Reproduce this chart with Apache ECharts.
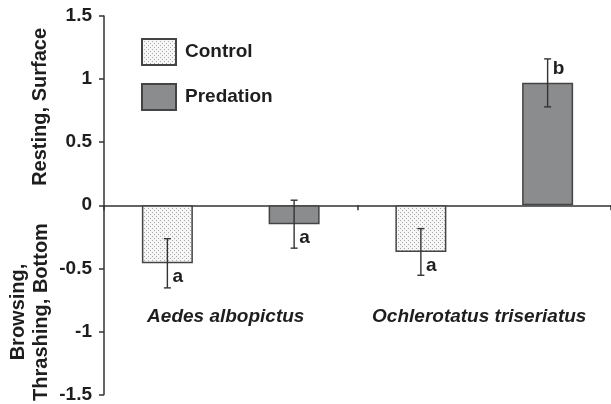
<!DOCTYPE html>
<html>
<head>
<meta charset="utf-8">
<script src="https://cdn.jsdelivr.net/npm/echarts@6/dist/echarts.min.js"></script>
<style>
  html, body { margin: 0; padding: 0; background: #fff; }
  #chart { width: 611px; height: 404px; }
</style>
</head>
<body>
<div id="chart"></div>
<script>
// bar groups (one bar per slot on the x axis)
const categories = ['Aedes Control', 'Aedes Predation', 'Ochlerotatus Control', 'Ochlerotatus Predation']
const controlValues = [-0.46, '-', -0.37, '-']
const predationValues = ['-', -0.15, '-', 0.97]
const means = [-0.46, -0.15, -0.37, 0.97]
const errors = [0.195, 0.19, 0.185, 0.19]
const letters = ['a', 'a', 'a', 'b']
const species = ['Aedes albopictus', 'Ochlerotatus triseriatus']

const FONT = 'Liberation Sans, Arial, sans-serif'
const INK = '#1e1e1e'

// dotted fill for the control bars
function dotPattern() {
    const c = document.createElement('canvas')
    c.width = 4
    c.height = 4
    const ctx = c.getContext('2d')
    ctx.fillStyle = '#f6f6f6'
    ctx.fillRect(0, 0, 4, 4)
    ctx.fillStyle = '#a8a8a8'
    ctx.fillRect(0, 0, 1, 1)
    ctx.fillRect(2, 2, 1, 1)
    return c
}

const errData = means.map((m, i) => [i, m, errors[i]])

const chart = echarts.init(document.getElementById('chart'))
chart.setOption({
    animation: false,
    textStyle: { fontFamily: FONT },
    grid: { left: 104, right: 0, top: 16, bottom: 6 },
    legend: {
        orient: 'vertical',
        left: 141,
        top: 38,
        padding: 0,
        icon: 'rect',
        itemWidth: 34,
        itemHeight: 26,
        itemGap: 17,
        data: ['Control', 'Predation'],
        textStyle: { fontSize: 19, fontWeight: 'bold', color: INK, fontFamily: FONT, padding: [0, 0, 0, 4] }
    },
    xAxis: [
        {
            type: 'category',
            data: categories,
            axisLine: { onZero: true, lineStyle: { color: '#333', width: 1.5 } },
            axisTick: { show: true, length: 5, lineStyle: { color: '#333', width: 1.5 } },
            axisLabel: { show: false }
        },
        {
            type: 'category',
            data: species,
            position: 'bottom',
            offset: -87,
            axisLine: { show: false, onZero: false },
            axisTick: { show: false },
            axisLabel: {
                interval: 0,
                hideOverlap: false,
                margin: 0,
                fontSize: 19,
                fontWeight: 'bold',
                fontStyle: 'italic',
                color: INK,
                fontFamily: FONT,
                padding: [0, 10, 0, 0]
            }
        }
    ],
    yAxis: {
        type: 'value',
        min: -1.5,
        max: 1.5,
        interval: 0.5,
        splitLine: { show: false },
        axisLine: { show: true, lineStyle: { color: '#333', width: 1.5 } },
        axisTick: { show: true, length: 5, lineStyle: { color: '#333', width: 1.5 } },
        axisLabel: { fontSize: 19, fontWeight: 'bold', color: INK, margin: 12, fontFamily: FONT }
    },
    graphic: [
        {
            type: 'text',
            x: 40, y: 28,
            rotation: Math.PI / 2,
            style: { text: 'Resting, Surface', font: 'bold 20px ' + FONT, fill: INK, align: 'right', verticalAlign: 'middle' }
        },
        {
            type: 'text',
            x: 18, y: 312,
            rotation: Math.PI / 2,
            style: { text: 'Browsing,', font: 'bold 20px ' + FONT, fill: INK, align: 'center', verticalAlign: 'middle' }
        },
        {
            type: 'text',
            x: 41, y: 312,
            rotation: Math.PI / 2,
            style: { text: 'Thrashing, Bottom', font: 'bold 20px ' + FONT, fill: INK, align: 'center', verticalAlign: 'middle' }
        }
    ],
    series: [
        {
            name: 'Control',
            type: 'bar',
            data: controlValues,
            barWidth: 51,
            barGap: '-100%',
            itemStyle: { color: { image: dotPattern(), repeat: 'repeat' }, borderColor: '#444', borderWidth: 1.5 }
        },
        {
            name: 'Predation',
            type: 'bar',
            data: predationValues,
            barWidth: 51,
            barGap: '-100%',
            itemStyle: { color: '#8b8c8e', borderColor: '#444', borderWidth: 1.5 }
        },
        {
            type: 'custom',
            data: errData,
            z: 10,
            renderItem(params, api) {
                const i = api.value(0)
                const m = api.value(1)
                const e = api.value(2)
                const hi = api.coord([i, m + e])
                const lo = api.coord([i, m - e])
                const dir = m < 0 ? -1 : 1
                const lp = api.coord([i, m + dir * 0.11])
                const cap = 3.5
                const ls = { stroke: '#333', lineWidth: 1.4 }
                return {
                    type: 'group',
                    children: [
                        { type: 'line', shape: { x1: hi[0], y1: hi[1], x2: lo[0], y2: lo[1] }, style: ls },
                        { type: 'line', shape: { x1: hi[0] - cap, y1: hi[1], x2: hi[0] + cap, y2: hi[1] }, style: ls },
                        { type: 'line', shape: { x1: lo[0] - cap, y1: lo[1], x2: lo[0] + cap, y2: lo[1] }, style: ls },
                        {
                            type: 'text',
                            x: lp[0] + 5,
                            y: lp[1],
                            style: { text: letters[params.dataIndex], font: 'bold 19px ' + FONT, fill: INK, align: 'left', verticalAlign: 'middle' }
                        }
                    ]
                }
            }
        }
    ]
})
</script>
</body>
</html>
